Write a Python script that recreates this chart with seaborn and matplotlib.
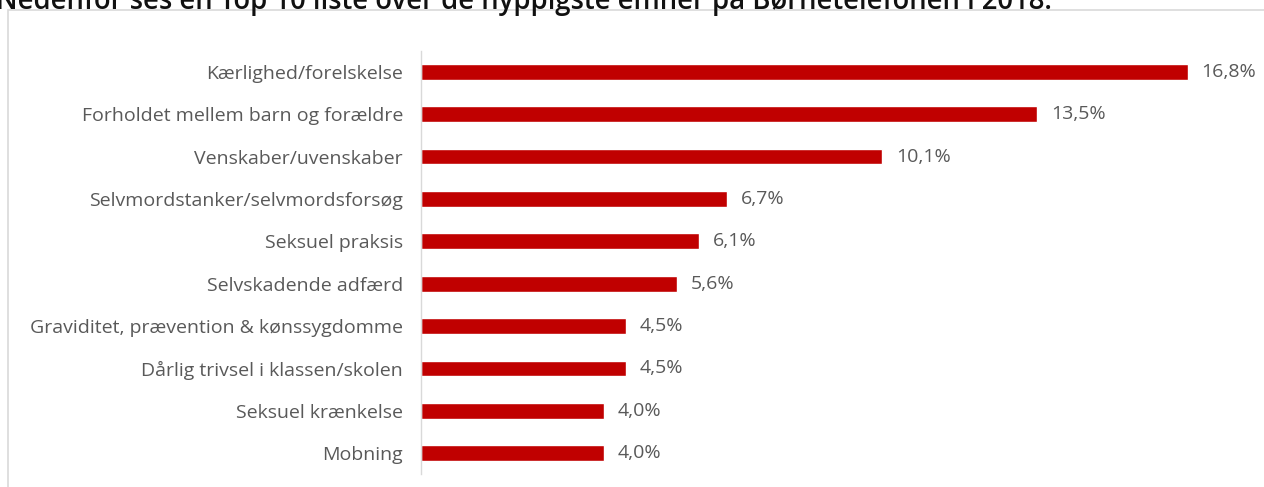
import matplotlib
matplotlib.use("Agg")
import matplotlib.pyplot as plt
import seaborn as sns
import pandas as pd
from matplotlib.patches import Rectangle

categories = [
    "Kærlighed/forelskelse",
    "Forholdet mellem barn og forældre",
    "Venskaber/uvenskaber",
    "Selvmordstanker/selvmordsforsøg",
    "Seksuel praksis",
    "Selvskadende adfærd",
    "Graviditet, prævention & kønssygdomme",
    "Dårlig trivsel i klassen/skolen",
    "Seksuel krænkelse",
    "Mobning",
]
values = [16.8, 13.5, 10.1, 6.7, 6.1, 5.6, 4.5, 4.5, 4.0, 4.0]
title = "Nedenfor ses en Top 10 liste over de hyppigste emner på Børnetelefonen i 2018."

sns.set_theme(style="white")
plt.rcParams["font.family"] = ["Open Sans", "DejaVu Sans"]

df = pd.DataFrame({"cat": categories, "val": values})

fig = plt.figure(figsize=(12.64, 4.87), dpi=100)
# chart frame
fig.patches.append(Rectangle((8/1264, -0.01), 1.0, 1 - 10/487 + 0.01, transform=fig.transFigure,
                             facecolor="white", edgecolor="#d9d9d9", linewidth=1.2, zorder=-5))
fig.text(-0.003, 1 - 9/487, title, fontsize=19.8, fontweight="semibold", color="#111111",
         ha="left", va="baseline")

ax = fig.add_axes([421/1264, 1 - 474.2/487, (18*45.65)/1264, (474.2-50.8)/487])
ax.set_zorder(2)
ax.set_facecolor("none")
sns.barplot(data=df, x="val", y="cat", orient="h", color="#c00000", width=0.37,
            saturation=1, ax=ax)
ax.set_xlim(0, 18)
ax.set_ylim(9.5, -0.5)
ax.set_xlabel("")
ax.set_ylabel("")
ax.set_xticks([])
for s in ["top", "right", "bottom"]:
    ax.spines[s].set_visible(False)
ax.spines["left"].set_color("#d9d9d9")
ax.spines["left"].set_linewidth(1.0)
ax.tick_params(axis="y", length=0, pad=13, labelsize=14, labelcolor="#595959")

for i, v in enumerate(values):
    ax.text(v + 0.3, i, f"{v:.1f}%".replace(".", ","), va="center", ha="left",
            fontsize=14, color="#595959", clip_on=False)

fig.savefig("out.png", dpi=100)
